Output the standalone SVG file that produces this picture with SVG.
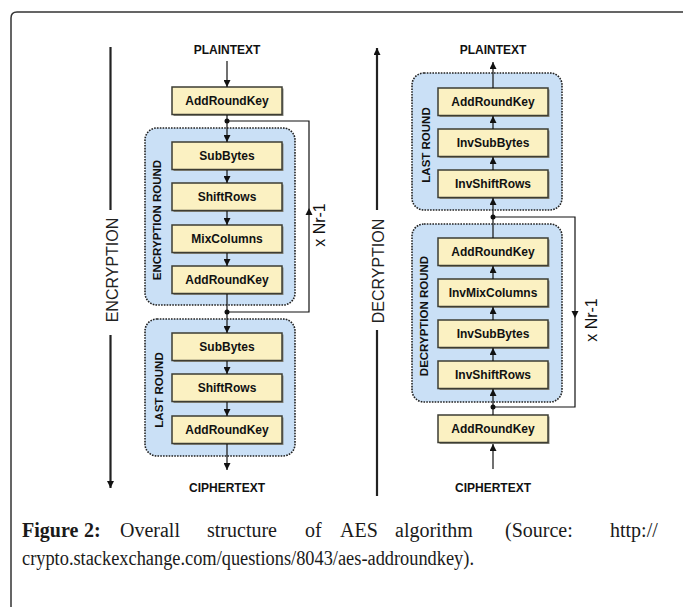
<svg xmlns="http://www.w3.org/2000/svg" width="683" height="607" viewBox="0 0 683 607">
<defs>
<marker id="ah" markerWidth="8" markerHeight="7" refX="7" refY="3.5" orient="auto" markerUnits="userSpaceOnUse"><path d="M0,0 L7,3.5 L0,7 z" fill="#111"/></marker>
<style>
.frame{fill:none;stroke:#333;stroke-width:1.5}
.cont{fill:#cae0f6;stroke:#222;stroke-width:1.6;stroke-dasharray:1.6 1.2}
.box{fill:#fbf1c2;stroke:#3d3d33;stroke-width:1.5}
.sh{fill:#8a8a80}
.bl{font-family:"Liberation Sans",Arial,sans-serif;font-weight:bold;font-size:12px;fill:#111;text-anchor:middle;dominant-baseline:central}
.rl{font-family:"Liberation Sans",Arial,sans-serif;font-weight:bold;font-size:11.5px;fill:#111;text-anchor:middle;dominant-baseline:central}
.big{font-family:"Liberation Sans",Arial,sans-serif;font-size:16px;fill:#222;text-anchor:middle;dominant-baseline:central}
.nr{font-family:"Liberation Sans",Arial,sans-serif;font-size:16px;fill:#111;text-anchor:middle;dominant-baseline:central}
.ln{fill:none;stroke:#111;stroke-width:1.2}
.ar{fill:none;stroke:#111;stroke-width:1.2;marker-end:url(#ah)}
.bar{fill:none;stroke:#222;stroke-width:2.2}
.dot{fill:#111}
.cap{font-family:"Liberation Serif","Times New Roman",serif;font-size:20px;fill:#1a1a1a}
</style>
</defs>
<rect width="683" height="607" fill="#fff"/>
<path class="frame" d="M11,607 V18 Q11,12 17,12 H683"/>

<!-- Encryption side -->
<g id="enc-bar">
<path class="bar" d="M110.5,47 V210"/>
<path class="bar" d="M110.5,335 V488" marker-end="url(#ah)"/>
<text class="big" transform="translate(112,270) rotate(-90)">ENCRYPTION</text>
</g>
<g id="enc-plaintext"><text class="bl" x="227" y="50" font-size="11.5">PLAINTEXT</text></g>
<g id="enc-ark0"><rect class="sh" x="173.5" y="88.5" width="110" height="27.5"/><rect class="box" x="172" y="87" width="110" height="27.5"/><text class="bl" x="227" y="101">AddRoundKey</text></g>
<g id="enc-round">
<rect class="cont" x="145" y="128" width="150" height="177" rx="12"/>
<text class="rl" transform="translate(157,220) rotate(-90)">ENCRYPTION ROUND</text>
</g>
<g id="enc-sub1"><rect class="sh" x="173.5" y="143.5" width="110" height="27.5"/><rect class="box" x="172" y="142" width="110" height="27.5"/><text class="bl" x="227" y="156">SubBytes</text></g>
<g id="enc-shift1"><rect class="sh" x="173.5" y="184.5" width="110" height="27.5"/><rect class="box" x="172" y="183" width="110" height="27.5"/><text class="bl" x="227" y="197">ShiftRows</text></g>
<g id="enc-mix"><rect class="sh" x="173.5" y="226.5" width="110" height="27.5"/><rect class="box" x="172" y="225" width="110" height="27.5"/><text class="bl" x="227" y="239">MixColumns</text></g>
<g id="enc-ark1"><rect class="sh" x="173.5" y="267.5" width="110" height="27.5"/><rect class="box" x="172" y="266" width="110" height="27.5"/><text class="bl" x="227" y="280">AddRoundKey</text></g>
<g id="enc-last">
<rect class="cont" x="145" y="319" width="150" height="137" rx="12"/>
<text class="rl" transform="translate(159,390) rotate(-90)">LAST ROUND</text>
</g>
<g id="enc-sub2"><rect class="sh" x="173.5" y="334.5" width="110" height="27.5"/><rect class="box" x="172" y="333" width="110" height="27.5"/><text class="bl" x="227" y="347">SubBytes</text></g>
<g id="enc-shift2"><rect class="sh" x="173.5" y="375.5" width="110" height="27.5"/><rect class="box" x="172" y="374" width="110" height="27.5"/><text class="bl" x="227" y="388">ShiftRows</text></g>
<g id="enc-ark2"><rect class="sh" x="173.5" y="417.5" width="110" height="27.5"/><rect class="box" x="172" y="416" width="110" height="27.5"/><text class="bl" x="227" y="430">AddRoundKey</text></g>
<g id="enc-ciphertext"><text class="bl" x="227" y="488" font-size="11.5">CIPHERTEXT</text></g>
<g id="enc-nr"><text class="nr" transform="translate(319,225) rotate(-90)">x Nr-1</text></g>

<!-- Decryption side -->
<g id="dec-bar">
<path class="bar" d="M377,496 V330"/>
<path class="bar" d="M377,210 V48" marker-end="url(#ah)"/>
<text class="big" transform="translate(378,271) rotate(-90)">DECRYPTION</text>
</g>
<g id="dec-plaintext"><text class="bl" x="493" y="50" font-size="11.5">PLAINTEXT</text></g>
<g id="dec-last">
<rect class="cont" x="412" y="73" width="150" height="137" rx="12"/>
<text class="rl" transform="translate(426,145) rotate(-90)">LAST ROUND</text>
</g>
<g id="dec-ark2"><rect class="sh" x="439.5" y="89.5" width="110" height="27.5"/><rect class="box" x="438" y="88" width="110" height="27.5"/><text class="bl" x="493" y="102">AddRoundKey</text></g>
<g id="dec-isub2"><rect class="sh" x="439.5" y="130.5" width="110" height="27.5"/><rect class="box" x="438" y="129" width="110" height="27.5"/><text class="bl" x="493" y="143">InvSubBytes</text></g>
<g id="dec-ishift2"><rect class="sh" x="439.5" y="171.5" width="110" height="27.5"/><rect class="box" x="438" y="170" width="110" height="27.5"/><text class="bl" x="493" y="184">InvShiftRows</text></g>
<g id="dec-round">
<rect class="cont" x="412" y="224" width="150" height="178" rx="12"/>
<text class="rl" transform="translate(424,316) rotate(-90)">DECRYPTION ROUND</text>
</g>
<g id="dec-ark1"><rect class="sh" x="439.5" y="239.5" width="110" height="27.5"/><rect class="box" x="438" y="238" width="110" height="27.5"/><text class="bl" x="493" y="252">AddRoundKey</text></g>
<g id="dec-imix"><rect class="sh" x="439.5" y="280.5" width="110" height="27.5"/><rect class="box" x="438" y="279" width="110" height="27.5"/><text class="bl" x="493" y="293">InvMixColumns</text></g>
<g id="dec-isub1"><rect class="sh" x="439.5" y="321.5" width="110" height="27.5"/><rect class="box" x="438" y="320" width="110" height="27.5"/><text class="bl" x="493" y="334">InvSubBytes</text></g>
<g id="dec-ishift1"><rect class="sh" x="439.5" y="362.5" width="110" height="27.5"/><rect class="box" x="438" y="361" width="110" height="27.5"/><text class="bl" x="493" y="375">InvShiftRows</text></g>
<g id="dec-ark0"><rect class="sh" x="439.5" y="416.5" width="110" height="27.5"/><rect class="box" x="438" y="415" width="110" height="27.5"/><text class="bl" x="493" y="429">AddRoundKey</text></g>
<g id="dec-ciphertext"><text class="bl" x="493" y="488" font-size="11.5">CIPHERTEXT</text></g>
<g id="dec-nr"><text class="nr" transform="translate(591,320) rotate(-90)">x Nr-1</text></g>

<!-- Connectors -->
<g id="connectors">
<path class="ar" d="M227,61 V87"/>
<path class="ar" d="M227,115 V142"/>
<path class="ar" d="M227,170 V183"/>
<path class="ar" d="M227,211 V225"/>
<path class="ar" d="M227,253 V266"/>
<path class="ar" d="M227,294 V333"/>
<path class="ar" d="M227,361 V374"/>
<path class="ar" d="M227,402 V416"/>
<path class="ar" d="M227,444 V470"/>
<path class="ln" d="M227,121 H309 V312 H227"/>
<polygon points="309,208 305.5,215 312.5,215" fill="#111"/>
<circle class="dot" cx="227" cy="121" r="2.5"/>
<circle class="dot" cx="227" cy="312" r="2.5"/>

<path class="ar" d="M493,469 V444"/>
<path class="ar" d="M493,415 V389"/>
<path class="ar" d="M493,361 V348"/>
<path class="ar" d="M493,320 V307"/>
<path class="ar" d="M493,279 V266"/>
<path class="ar" d="M493,238 V198"/>
<path class="ar" d="M493,170 V157"/>
<path class="ar" d="M493,129 V116"/>
<path class="ar" d="M493,88 V62"/>
<path class="ln" d="M493,217 H575 V407 H493"/>
<polygon points="575,318 571.5,311 578.5,311" fill="#111"/>
<circle class="dot" cx="493" cy="217" r="2.5"/>
<circle class="dot" cx="493" cy="407" r="2.5"/>
</g>

<!-- Caption -->
<g id="caption">
<text class="cap" y="537"><tspan x="22" font-weight="bold">Figure</tspan><tspan x="84" font-weight="bold">2:</tspan><tspan x="120">Overall</tspan><tspan x="207">structure</tspan><tspan x="305">of</tspan><tspan x="340">AES</tspan><tspan x="395">algorithm</tspan><tspan x="505">(Source:</tspan><tspan x="610">http://</tspan></text>
<text class="cap" x="22" y="565" font-size="19.5" textLength="452" lengthAdjust="spacingAndGlyphs">crypto.stackexchange.com/questions/8043/aes-addroundkey).</text>
</g>
</svg>
